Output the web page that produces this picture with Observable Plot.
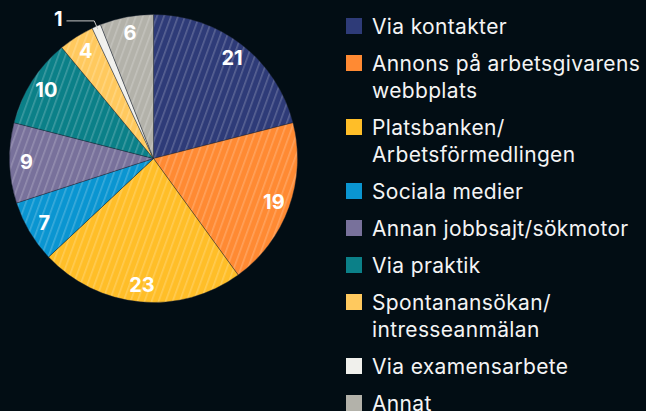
<!DOCTYPE html>
<html><head><meta charset="utf-8">
<script src="https://cdn.jsdelivr.net/npm/d3@7"></script>
<script src="https://cdn.jsdelivr.net/npm/@observablehq/plot@0.6"></script>
<style>
html,body{margin:0;padding:0;background:#020d14;width:646px;height:411px;overflow:hidden;font-family:Inter,"Noto Sans",sans-serif;}
#chart{position:absolute;left:0;top:0;}
#legend{position:absolute;left:346px;top:13px;color:#f4f4f4;font-size:21px;letter-spacing:0.35px;line-height:27px;}
.item{display:flex;margin-bottom:10px;white-space:pre-line;}
.sw{width:16px;height:16px;margin-top:5px;margin-right:10px;flex:none;}
</style></head><body>
<div id="chart"></div><div id="legend"></div>
<script>
const categories = [
  "Via kontakter",
  "Annons på arbetsgivarens\nwebbplats",
  "Platsbanken/\nArbetsförmedlingen",
  "Sociala medier",
  "Annan jobbsajt/sökmotor",
  "Via praktik",
  "Spontanansökan/\nintresseanmälan",
  "Via examensarbete",
  "Annat"
];
const values = [21, 19, 23, 7, 9, 10, 4, 1, 6];
const colors = ["#2e3b78", "#ff8a33", "#ffbe28", "#0a95d1", "#78719b", "#0b8088", "#ffc95e", "#f0f0ec", "#b3b2aa"];
const outsideLabel = [false, false, false, false, false, false, false, true, false];

const rows = categories.map((c, i) => ({category: c, value: values[i], color: colors[i], outside: outsideLabel[i]}));
const arcs = d3.pie().sort(null).value(d => d.value)(rows);
const mids = arcs.map(a => (a.startAngle + a.endAngle) / 2);

const inside = arcs.map((a, i) => ({...a.data, a: mids[i]})).filter(d => !d.outside);
const outside = arcs.map((a, i) => ({...a.data, a: mids[i]})).filter(d => d.outside);
const pol = (a, r) => [Math.sin(a) * r, Math.cos(a) * r];

const leaders = outside.flatMap((d, k) => {
  const p0 = pol(d.a, 0.985), p1 = pol(d.a, 1.045);
  return [
    {k, x: p0[0], y: p0[1]},
    {k, x: p1[0], y: p1[1]},
    {k, x: p1[0] - 0.19, y: p1[1]}
  ];
});
const outsideText = outside.map(d => { const p = pol(d.a, 1.045); return {...d, x: p[0] - 0.22, y: p[1] + 0.01}; });

function pieMark(index, scales) {
  const x = scales.x, y = scales.y;
  const cx = x(0), cy = y(0), r = x(1) - x(0);
  const arc = d3.arc().innerRadius(0).outerRadius(r);
  const g = d3.create("svg:g");
  const defs = g.append("defs");
  arcs.forEach((a, i) => {
    const p = defs.append("pattern").attr("id", "hatch" + i).attr("patternUnits", "userSpaceOnUse")
      .attr("width", 6.6).attr("height", 10).attr("patternTransform", "rotate(20)");
    p.append("rect").attr("width", 6.6).attr("height", 10).attr("fill", a.data.color);
    p.append("rect").attr("x", 0).attr("width", 1.6).attr("height", 10).attr("fill", "#ffffff").attr("fill-opacity", 0.2);
  });
  g.append("g").attr("transform", `translate(${cx},${cy})`)
    .selectAll("path").data(arcs).join("path")
    .attr("d", arc)
    .attr("fill", (d, i) => `url(#hatch${i})`)
    .attr("stroke", "#1a2230").attr("stroke-width", 0.4);
  return g.node();
}

const chart = Plot.plot({
  width: 310, height: 411,
  marginLeft: 9.5, marginRight: 12.5, marginTop: 14.5, marginBottom: 108.5,
  style: {background: "transparent", fontFamily: "Inter, sans-serif"},
  x: {domain: [-1, 1], axis: null},
  y: {domain: [-1, 1], axis: null},
  marks: [
    pieMark,
    Plot.line(leaders, {x: "x", y: "y", z: "k", stroke: "#c8c8c8", strokeWidth: 1}),
    Plot.text(inside, {x: d => pol(d.a, 0.885)[0], y: d => pol(d.a, 0.885)[1], text: d => String(d.value),
      fill: "white", fontSize: 20, fontWeight: 700}),
    Plot.text(outsideText, {x: "x", y: "y", text: d => String(d.value), textAnchor: "end",
      fill: "white", fontSize: 20, fontWeight: 700})
  ]
});
document.getElementById("chart").appendChild(chart);

const legend = d3.select("#legend");
rows.forEach(d => {
  const it = legend.append("div").attr("class", "item");
  it.append("div").attr("class", "sw").style("background", d.color);
  it.append("div").text(d.category);
});
</script>
</body></html>
